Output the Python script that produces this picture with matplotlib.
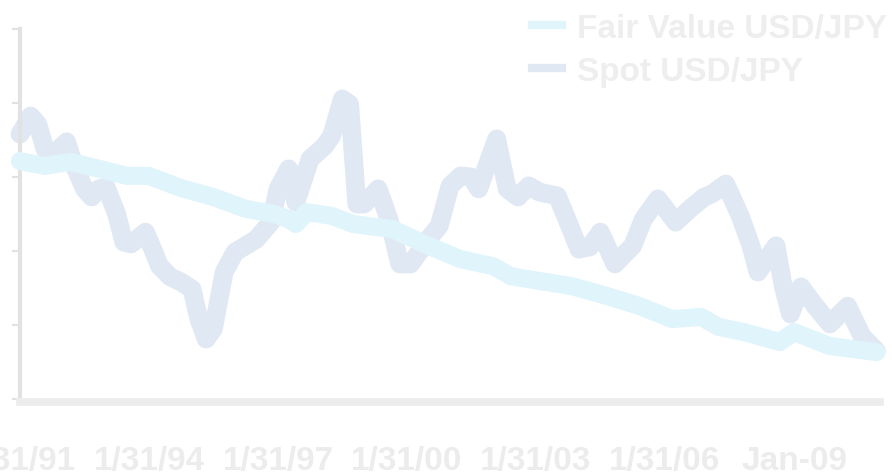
import numpy as np
import matplotlib.pyplot as plt
from matplotlib.lines import Line2D

# Spot USD/JPY, sampled at the turning points of the monthly series
spot_dates = np.array([
    '1991-01', '1991-04', '1991-06', '1991-08', '1991-10', '1991-12',
    '1992-02', '1992-04', '1992-07', '1992-09', '1992-11',
    '1993-01', '1993-04', '1993-06', '1993-08', '1993-12',
    '1994-02', '1994-04', '1994-07', '1994-10',
    '1995-01', '1995-03', '1995-05', '1995-07', '1995-10',
    '1996-01', '1996-07', '1996-11',
    '1997-01', '1997-04', '1997-06', '1997-10',
    '1998-02', '1998-04', '1998-07', '1998-09', '1998-11',
    '1999-01', '1999-05', '1999-08', '1999-11',
    '2000-02', '2000-07', '2000-10',
    '2001-01', '2001-04', '2001-07', '2001-09', '2001-11',
    '2002-02', '2002-05', '2002-08', '2002-11',
    '2003-02', '2003-07', '2003-10',
    '2004-01', '2004-04', '2004-07', '2004-11',
    '2005-04', '2005-07', '2005-11',
    '2006-04', '2006-08', '2006-12',
    '2007-02', '2007-06', '2007-10',
    '2008-01', '2008-03', '2008-08', '2008-10', '2008-12',
    '2009-03', '2009-07', '2009-11',
    '2010-04', '2010-08', '2010-12',
], dtype='datetime64[M]')
spot_values = [
    136.6, 141.5, 139.3, 132.6, 129.1, 132.6,
    134.5, 128.5, 121.8, 119.6, 121.8,
    122.3, 115.0, 107.4, 106.9, 110.1,
    105.5, 100.9, 98.0, 96.6,
    94.7, 86.6, 81.2, 83.9, 99.3,
    104.7, 108.2, 112.8,
    121.8, 127.2, 118.2, 129.9,
    133.4, 136.1, 146.1, 144.7, 117.7,
    117.7, 121.8, 113.6, 101.5,
    101.5, 108.2, 111.8,
    122.6, 125.3, 125.0, 121.8, 127.2,
    135.3, 121.8, 119.6, 122.6,
    120.9, 119.9, 112.8,
    105.5, 106.1, 110.1, 101.5,
    106.4, 113.6, 119.1,
    112.8, 116.4, 119.6,
    120.4, 123.1, 114.5,
    106.4, 99.3, 106.4, 95.5, 88.0,
    95.3, 90.1, 85.3,
    90.1, 82.0, 78.0,
]

# Fair value USD/JPY
fair_dates = np.array([
    '1991-01', '1991-08', '1992-03', '1992-09', '1993-07', '1994-01',
    '1994-10', '1995-07', '1996-04', '1996-12', '1997-04', '1997-06',
    '1997-09', '1998-04', '1998-10', '1999-09', '2000-07', '2001-04',
    '2002-01', '2002-06', '2003-02', '2003-11', '2004-09', '2005-06',
    '2006-03', '2006-11', '2007-04', '2007-11', '2008-09', '2009-01',
    '2009-11', '2010-12',
], dtype='datetime64[M]')
fair_values = [
    129.3, 128.0, 129.1, 127.7, 125.3, 125.3,
    122.0, 119.6, 116.4, 115.0, 113.6, 112.3,
    115.5, 114.5, 112.3, 110.9, 106.4, 102.8,
    100.9, 98.2, 96.9, 95.5, 92.8, 90.1,
    86.6, 87.2, 84.5, 83.1, 80.4, 83.1,
    79.3, 77.7,
]

tick_dates = np.array(['1991-01', '1994-01', '1997-01', '2000-01',
                       '2003-01', '2006-01', '2009-01'], dtype='datetime64[M]')
tick_labels = ['1/31/91', '1/31/94', '1/31/97', '1/31/00',
               '1/31/03', '1/31/06', 'Jan-09']
series_names = ['Fair Value USD/JPY', 'Spot USD/JPY']

spot_color = '#dfe8f3'
fair_color = '#e0f4fc'
text_color = '#ececec'
font = 'Liberation Sans'

fig = plt.figure(figsize=(8.92, 4.77), dpi=100)
ax = fig.add_axes([20 / 892, 74 / 477, 860 / 892, 373 / 477])

ax.plot(spot_dates, spot_values, color=spot_color, lw=13.5,
        solid_capstyle='round', solid_joinstyle='round', clip_on=False, zorder=2)
ax.plot(fair_dates, fair_values, color=fair_color, lw=13,
        solid_capstyle='round', solid_joinstyle='round', clip_on=False, zorder=3)

ax.set_xlim(np.datetime64('1991-01'), np.datetime64('2011-01'))
ax.set_ylim(64.2, 165)
ax.set_yticks(np.arange(65, 166, 20))
ax.tick_params(axis='y', length=6, width=1.5, color='#e2e2e2', labelleft=False)

# first label sits on the axis origin and runs off the left edge
ax.set_xticks(tick_dates)
ax.set_xticklabels(tick_labels, fontsize=24, fontweight='bold',
                   color=text_color, family=font)
ax.tick_params(axis='x', length=0, pad=31)

for side in ['top', 'right']:
    ax.spines[side].set_visible(False)
ax.spines['left'].set_color('#e2e2e2')
ax.spines['left'].set_linewidth(3)
ax.spines['bottom'].set_color('#ececec')
ax.spines['bottom'].set_linewidth(5.5)

handles = [Line2D([], [], color=fair_color, lw=6),
           Line2D([], [], color=spot_color, lw=6)]
fig.legend(handles, series_names, loc='upper right',
           bbox_to_anchor=(887 / 892, 1 - 14 / 477), frameon=False,
           prop=dict(family=font, weight='bold', size=24),
           labelcolor='#eeeeee', handlelength=0.9, handletextpad=0.45,
           labelspacing=0.35, borderpad=0, borderaxespad=0)

fig.savefig('out.png', dpi=100)
